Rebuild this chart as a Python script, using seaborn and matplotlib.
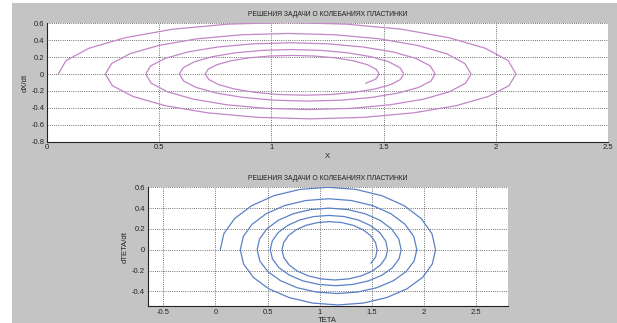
import numpy as np
import pandas as pd
import seaborn as sns
import matplotlib
matplotlib.use("Agg")
import matplotlib.pyplot as plt
from matplotlib.patches import Rectangle

# top panel: X vs dX/dt (one row per half turn of the spiral)
x_vals = [0.05, 0.085, 0.187, 0.349, 0.56, 0.806, 1.07, 1.334, 1.58, 1.791, 1.953, 2.055, 2.09,
          2.059, 1.967, 1.822, 1.633, 1.412, 1.175, 0.938, 0.717, 0.528, 0.383, 0.291, 0.26,
          0.288, 0.369, 0.499, 0.667, 0.864, 1.075, 1.286, 1.483, 1.651, 1.781, 1.862, 1.89,
          1.865, 1.793, 1.678, 1.528, 1.353, 1.165, 0.977, 0.802, 0.652, 0.537, 0.465, 0.44,
          0.462, 0.526, 0.629, 0.762, 0.918, 1.085, 1.252, 1.408, 1.541, 1.644, 1.708, 1.73,
          1.711, 1.654, 1.563, 1.445, 1.308, 1.16, 1.012, 0.875, 0.757, 0.666, 0.609, 0.59,
          0.607, 0.657, 0.736, 0.84, 0.96, 1.09, 1.22, 1.34, 1.444, 1.523, 1.573, 1.59,
          1.575, 1.531, 1.461, 1.369, 1.263, 1.148, 1.033, 0.927, 0.835, 0.765, 0.721, 0.705,
          0.718, 0.757, 0.818, 0.899, 0.992, 1.093, 1.193, 1.286, 1.367, 1.428, 1.467, 1.48,
          1.465, 1.42]
dxdt_vals = [0, 0.16, 0.305, 0.43, 0.53, 0.59, 0.61, 0.59, 0.53, 0.43, 0.305, 0.16, 0,
             -0.137, -0.265, -0.375, -0.459, -0.512, -0.53, -0.512, -0.459, -0.375, -0.265, -0.137, 0,
             0.124, 0.24, 0.339, 0.416, 0.464, 0.48, 0.464, 0.416, 0.339, 0.24, 0.124, 0,
             -0.109, -0.21, -0.297, -0.364, -0.406, -0.42, -0.406, -0.364, -0.297, -0.21, -0.109, 0,
             0.096, 0.185, 0.262, 0.32, 0.357, 0.37, 0.357, 0.32, 0.262, 0.185, 0.096, 0,
             -0.083, -0.16, -0.226, -0.277, -0.309, -0.32, -0.309, -0.277, -0.226, -0.16, -0.083, 0,
             0.075, 0.145, 0.205, 0.251, 0.28, 0.29, 0.28, 0.251, 0.205, 0.145, 0.075, 0,
             -0.065, -0.125, -0.177, -0.217, -0.242, -0.25, -0.242, -0.217, -0.177, -0.125, -0.065, 0,
             0.057, 0.11, 0.156, 0.191, 0.213, 0.22, 0.213, 0.191, 0.156, 0.11, 0.057, 0,
             -0.06, -0.11]

# bottom panel: TETA vs dTETA/dt
teta_vals = [0.046, 0.081, 0.184, 0.348, 0.562, 0.811, 1.078, 1.345, 1.594, 1.808, 1.972, 2.075, 2.11,
             2.078, 1.985, 1.836, 1.642, 1.416, 1.174, 0.932, 0.706, 0.512, 0.363, 0.27, 0.238,
             0.267, 0.351, 0.486, 0.661, 0.865, 1.084, 1.303, 1.507, 1.682, 1.817, 1.901, 1.93,
             1.904, 1.827, 1.706, 1.548, 1.363, 1.165, 0.967, 0.782, 0.624, 0.503, 0.426, 0.40,
             0.423, 0.492, 0.602, 0.745, 0.911, 1.09, 1.269, 1.435, 1.578, 1.688, 1.757, 1.78,
             1.759, 1.696, 1.596, 1.467, 1.315, 1.153, 0.991, 0.839, 0.71, 0.61, 0.547, 0.526,
             0.545, 0.601, 0.691, 0.807, 0.942, 1.088, 1.234, 1.369, 1.485, 1.575, 1.631, 1.65,
             1.633, 1.582, 1.502, 1.397, 1.275, 1.144, 1.013, 0.891, 0.786, 0.706, 0.655, 0.638,
             0.654, 0.699, 0.772, 0.866, 0.976, 1.094, 1.212, 1.322, 1.416, 1.489, 1.534, 1.55,
             1.535, 1.49]
dteta_vals = [0, 0.155, 0.3, 0.424, 0.52, 0.58, 0.6, 0.58, 0.52, 0.424, 0.3, 0.155, 0,
              -0.137, -0.265, -0.375, -0.459, -0.512, -0.53, -0.512, -0.459, -0.375, -0.265, -0.137, 0,
              0.127, 0.245, 0.346, 0.424, 0.473, 0.49, 0.473, 0.424, 0.346, 0.245, 0.127, 0,
              -0.109, -0.21, -0.297, -0.364, -0.406, -0.42, -0.406, -0.364, -0.297, -0.21, -0.109, 0,
              0.104, 0.2, 0.283, 0.346, 0.386, 0.40, 0.386, 0.346, 0.283, 0.2, 0.104, 0,
              -0.089, -0.173, -0.244, -0.299, -0.333, -0.345, -0.333, -0.299, -0.244, -0.173, -0.089, 0,
              0.085, 0.165, 0.233, 0.286, 0.319, 0.33, 0.319, 0.286, 0.233, 0.165, 0.085, 0,
              -0.075, -0.145, -0.205, -0.251, -0.28, -0.29, -0.28, -0.251, -0.205, -0.145, -0.075, 0,
              0.07, 0.135, 0.191, 0.234, 0.261, 0.27, 0.261, 0.234, 0.191, 0.135, 0.07, 0,
              -0.07, -0.13]

title = "РЕШЕНИЯ ЗАДАЧИ О КОЛЕБАНИЯХ ПЛАСТИНКИ"
top_xticks = [0, 0.5, 1, 1.5, 2, 2.5]
top_yticks = [-0.8, -0.6, -0.4, -0.2, 0, 0.2, 0.4, 0.6]
bot_xticks = [-0.5, 0, 0.5, 1, 1.5, 2, 2.5]
bot_yticks = [-0.4, -0.2, 0, 0.2, 0.4, 0.6]

sns.set_style("white")
plt.rcParams['font.family'] = ['Liberation Sans', 'DejaVu Sans']

bg = '#c4c4c4'
fig = plt.figure(figsize=(6.17, 3.23), dpi=100, facecolor=bg)
# white screenshot border
fig.add_artist(Rectangle((0, 0), 12 / 617, 1, transform=fig.transFigure,
                         facecolor='white', edgecolor='none', zorder=0))
fig.add_artist(Rectangle((0, 1 - 3 / 323), 1, 3 / 323, transform=fig.transFigure,
                         facecolor='white', edgecolor='none', zorder=0))

ax1 = fig.add_axes([47 / 617, 1 - 141.7 / 323, 561 / 617, 118.4 / 323])
ax2 = fig.add_axes([147.6 / 617, 1 - 306 / 323, 360 / 617, 118.7 / 323])

df1 = pd.DataFrame({'X': x_vals, 'dX/dt': dxdt_vals})
df2 = pd.DataFrame({'TETA': teta_vals, 'dTETA/dt': dteta_vals})

sns.lineplot(data=df1, x='X', y='dX/dt', sort=False, estimator=None,
             color='#c485c9', lw=0.9, ax=ax1)
sns.lineplot(data=df2, x='TETA', y='dTETA/dt', sort=False, estimator=None,
             color='#5a82c6', lw=0.9, ax=ax2)

ax1.set_xlim(0, 2.5)
ax1.set_ylim(-0.8, 0.6)
ax2.set_xlim(-0.65, 2.8)
ax2.set_ylim(-0.54, 0.6)

for ax, xt, yt, xl, yl in [(ax1, top_xticks, top_yticks, 'X', 'dX/dt'),
                           (ax2, bot_xticks, bot_yticks, 'TETA', 'dTETA/dt')]:
    ax.set_facecolor('white')
    ax.set_xticks(xt)
    ax.set_yticks(yt)
    ax.set_xticklabels([f'{v:g}' for v in xt])
    ax.set_yticklabels([f'{v:g}' for v in yt])
    ax.grid(True, color='#444444', linestyle=(0, (1, 1.6)), linewidth=0.6)
    ax.tick_params(direction='in', length=3, width=0.6, pad=2,
                   labelsize=5.5, colors='#222222')
    for s in ['top', 'right']:
        ax.spines[s].set_visible(False)
    for s in ['left', 'bottom']:
        ax.spines[s].set_color('#222222')
        ax.spines[s].set_linewidth(0.8)
    ax.set_xlabel(xl, fontsize=5.5, labelpad=1, color='#222222')
    ax.set_ylabel(yl, fontsize=5.5, labelpad=2, color='#222222')
    ax.set_title(title, fontsize=4.9, pad=5, color='#222222')

plt.savefig('out.png', dpi=100, facecolor=bg)
